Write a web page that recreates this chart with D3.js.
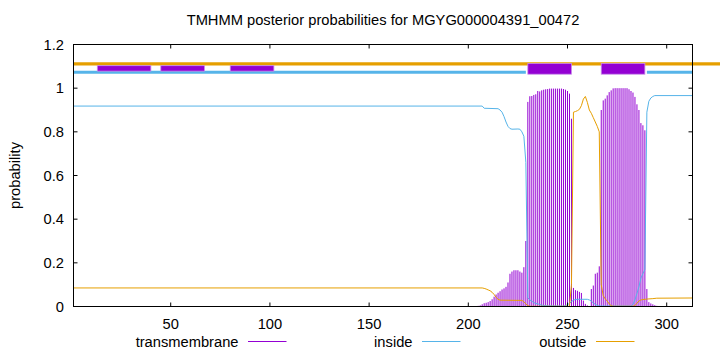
<!DOCTYPE html>
<html>
<head>
<meta charset="utf-8">
<script src="https://cdn.jsdelivr.net/npm/d3@7"></script>
<style>
  body { margin: 0; background: #fff; }
  svg { display: block; font-family: "Liberation Sans", Arial, sans-serif; }
</style>
</head>
<body>
<svg id="chart" width="720" height="352"></svg>
<script>
'use strict';

// residue range of the protein
var seqStart = 1;
var seqEnd = 313;

// transmembrane posterior, one value per residue starting at tmFirst (all others ~0)
var tmFirst = 205;
var transmembrane = [
  0.003, 0.005, 0.01, 0.015, 0.017, 0.02, 0.025, 0.033, 0.045, 0.055,
  0.063, 0.07, 0.078, 0.083, 0.09, 0.11, 0.15, 0.16, 0.166, 0.166,
  0.166, 0.16, 0.155, 0.18, 0.30, 0.937, 0.963, 0.964, 0.969, 0.972,
  0.987, 0.985, 0.99, 0.993, 0.995, 0.996, 0.998, 0.998, 0.998, 0.998,
  0.998, 0.998, 0.998, 0.996, 0.993, 0.987, 0.975, 0.86, 0.085, 0.075,
  0.072, 0.067, 0.062, 0.027, 0.012, 0.005, 0.002, 0.08, 0.096, 0.15,
  0.155, 0.184, 0.90, 0.944, 0.952, 0.967, 0.982, 0.99, 0.999, 1.0,
  1.0, 1.0, 1.0, 1.0, 1.0, 1.0, 0.995, 0.987, 0.98, 0.96,
  0.926, 0.90, 0.84, 0.83, 0.807, 0.08, 0.02, 0.014, 0.01, 0.006,
  0.003
];

// inside posterior [residue, probability]
var inside = [
  [1, 0.918], [207, 0.918], [208, 0.908], [215, 0.906], [216, 0.90], [217, 0.89],
  [218, 0.87], [219, 0.845], [220, 0.825], [221, 0.815], [222, 0.812], [225, 0.813],
  [226, 0.812], [227, 0.80], [228, 0.78], [229, 0.66], [230, 0.04], [231, 0.03],
  [232, 0.024], [233, 0.018], [234, 0.014], [235, 0.012], [236, 0.009], [237, 0.006],
  [238, 0.005], [240, 0.003], [248, 0.002], [249, 0.004], [250, 0.008], [251, 0.015],
  [252, 0.022], [253, 0.029], [254, 0.032], [255, 0.033], [260, 0.033], [261, 0.03],
  [262, 0.025], [263, 0.016], [264, 0.01], [265, 0.005], [266, 0.002], [282, 0.002],
  [283, 0.01], [284, 0.03], [285, 0.06], [286, 0.09], [287, 0.13], [288, 0.15],
  [289, 0.17], [290, 0.89], [291, 0.94], [292, 0.955], [293, 0.962], [294, 0.966],
  [313, 0.966]
];

// outside posterior [residue, probability]
var outside = [
  [1, 0.085], [207, 0.085], [208, 0.083], [209, 0.08], [210, 0.076], [211, 0.072],
  [212, 0.065], [213, 0.055], [214, 0.042], [215, 0.033], [216, 0.029], [227, 0.028],
  [228, 0.022], [229, 0.012], [230, 0.004], [231, 0.001], [251, 0.001], [252, 0.1],
  [253, 0.89], [254, 0.893], [255, 0.897], [256, 0.903], [257, 0.92], [258, 0.95],
  [259, 0.962], [260, 0.935], [261, 0.9], [262, 0.885], [263, 0.865], [264, 0.845],
  [265, 0.825], [266, 0.80], [267, 0.1], [268, 0.05], [269, 0.035], [270, 0.025],
  [271, 0.012], [272, 0.004], [273, 0.001], [283, 0.001], [284, 0.004], [285, 0.015],
  [286, 0.025], [287, 0.03], [288, 0.032], [290, 0.034], [293, 0.036], [295, 0.038],
  [313, 0.039]
];

// predicted topology strip at the top of the plot
var outsideSegments = [[1, 327]];
var insideSegments = [[1, 229], [290, 313]];
var helixSegments = [[230, 252], [267, 289]];
var minorSegments = [[13, 40], [45, 67], [80, 102]];

var xTicks = [50, 100, 150, 200, 250, 300];
var yTicks = [0, 0.2, 0.4, 0.6, 0.8, 1, 1.2];
var legendNames = ['transmembrane', 'inside', 'outside'];

var title = 'TMHMM posterior probabilities for MGYG000004391_00472';

var colTM = '#9400d3', colIn = '#56b4e9', colOut = '#e69f00';

var svg = d3.select('#chart');
var x = d3.scaleLinear().domain([seqStart, seqEnd]).range([73.5, 692.5]);
var y = d3.scaleLinear().domain([0, 1.2]).range([306.5, 44.5]);
var fontSize = '14.7px';

// title and y label
svg.append('text').attr('x', (x.range()[0] + x.range()[1]) / 2).attr('y', 25)
  .attr('text-anchor', 'middle').style('font-size', fontSize).text(title);
svg.append('text').attr('transform', 'translate(20,' + y(0.6) + ') rotate(-90)')
  .attr('text-anchor', 'middle').style('font-size', fontSize).text('probability');

// impulses for transmembrane
svg.append('g').selectAll('line')
  .data(transmembrane).enter()
  .append('line')
  .attr('x1', function (d, i) { return x(tmFirst + i); })
  .attr('x2', function (d, i) { return x(tmFirst + i); })
  .attr('y1', y(0))
  .attr('y2', function (d) { return y(d); })
  .attr('stroke', colTM).attr('stroke-width', 1);

var line = d3.line().x(function (d) { return x(d[0]); }).y(function (d) { return y(d[1]); });
svg.append('path').datum(inside).attr('d', line)
  .attr('fill', 'none').attr('stroke', colIn).attr('stroke-width', 1);
svg.append('path').datum(outside).attr('d', line)
  .attr('fill', 'none').attr('stroke', colOut).attr('stroke-width', 1);

// topology strip
function strip(segs, val, col, w) {
  svg.append('g').selectAll('line').data(segs).enter().append('line')
    .attr('x1', function (d) { return x(d[0]); })
    .attr('x2', function (d) { return x(d[1]); })
    .attr('y1', y(val)).attr('y2', y(val))
    .attr('stroke', col).attr('stroke-width', w);
}
strip(outsideSegments, 1.111, colOut, 3.2);
strip(insideSegments, 1.073, colIn, 3);
function boxes(segs, lo, hi) {
  svg.append('g').selectAll('rect').data(segs).enter().append('rect')
    .attr('x', function (d) { return x(d[0]); })
    .attr('width', function (d) { return x(d[1]) - x(d[0]); })
    .attr('y', y(hi)).attr('height', y(lo) - y(hi))
    .attr('fill', colTM).attr('stroke', '#c88ee8').attr('stroke-width', 0.8);
}
boxes(minorSegments, 1.078, 1.103);
boxes(helixSegments, 1.064, 1.113);

// border and ticks
var x0 = x.range()[0], x1 = x.range()[1], yb = y(0), yt = y(1.2);
svg.append('rect').attr('x', x0).attr('y', yt).attr('width', x1 - x0).attr('height', yb - yt)
  .attr('fill', 'none').attr('stroke', '#000').attr('stroke-width', 1);

var tk = svg.append('g').attr('stroke', '#000').attr('stroke-width', 1);
xTicks.forEach(function (t) {
  tk.append('line').attr('x1', x(t)).attr('x2', x(t)).attr('y1', yb).attr('y2', yb - 4);
  tk.append('line').attr('x1', x(t)).attr('x2', x(t)).attr('y1', yt).attr('y2', yt + 4);
});
yTicks.forEach(function (t) {
  tk.append('line').attr('x1', x0).attr('x2', x0 + 4).attr('y1', y(t)).attr('y2', y(t));
  tk.append('line').attr('x1', x1).attr('x2', x1 - 4).attr('y1', y(t)).attr('y2', y(t));
});

svg.append('g').selectAll('text').data(xTicks).enter().append('text')
  .attr('x', function (d) { return x(d); }).attr('y', 329)
  .attr('text-anchor', 'middle').style('font-size', fontSize).text(function (d) { return d; });
svg.append('g').selectAll('text').data(yTicks).enter().append('text')
  .attr('x', 64).attr('y', function (d) { return y(d) + 5; })
  .attr('text-anchor', 'end').style('font-size', fontSize).text(function (d) { return d; });

// legend
var legendCols = [colTM, colIn, colOut];
var key = svg.append('g').selectAll('g').data(legendNames).enter().append('g')
  .attr('transform', function (d, i) { return 'translate(' + (238.5 + i * 174) + ',341.5)'; });
key.append('text').attr('x', 0).attr('y', 5).attr('text-anchor', 'end')
  .style('font-size', fontSize).text(function (d) { return d; });
key.append('line').attr('x1', 9.5).attr('x2', 48).attr('y1', 0).attr('y2', 0)
  .attr('stroke', function (d, i) { return legendCols[i]; }).attr('stroke-width', 1);
</script>
</body>
</html>
